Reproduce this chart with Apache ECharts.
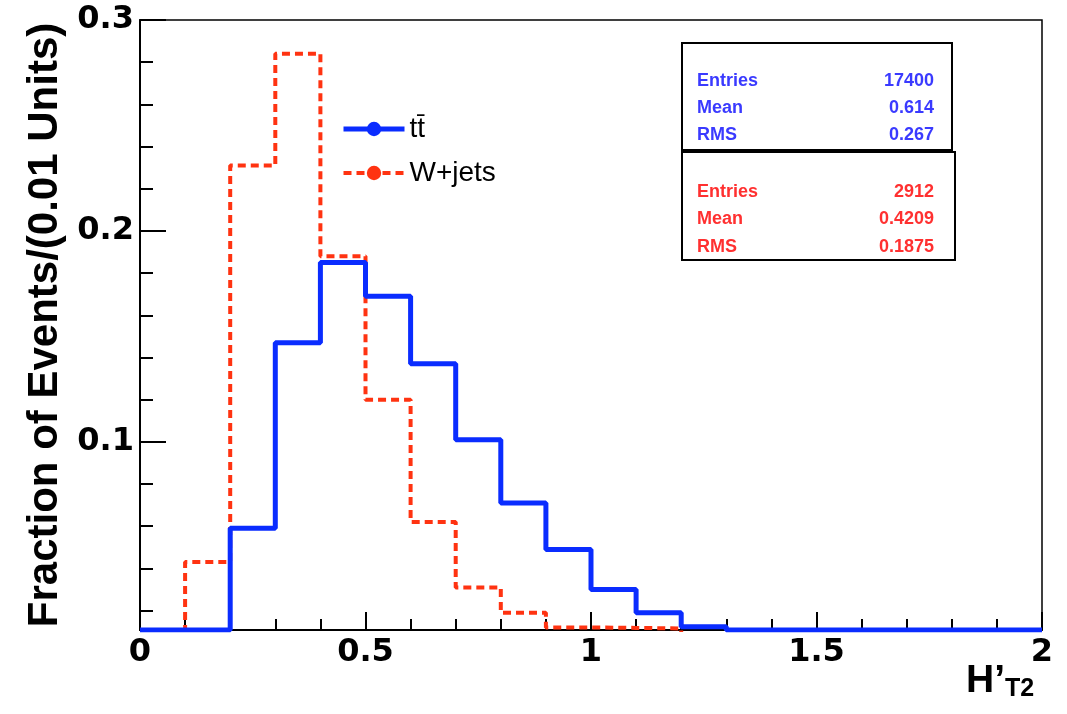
<!DOCTYPE html>
<html>
<head>
<meta charset="utf-8">
<title>HT2 prime</title>
<script src="https://cdn.jsdelivr.net/npm/echarts@6/dist/echarts.min.js"></script>
<style>
  html, body { margin: 0; padding: 0; background: #fff; }
  #main { width: 1067px; height: 714px; }
</style>
</head>
<body>
<div id="main"></div>
<script>
// bin edges (0.1 wide, 0 .. 2)
const binEdges = [0, 0.1, 0.2, 0.3, 0.4, 0.5, 0.6, 0.7, 0.8, 0.9, 1.0,
                  1.1, 1.2, 1.3, 1.4, 1.5, 1.6, 1.7, 1.8, 1.9, 2.0];

// fraction of events per bin
const ttbarValues = [0.001, 0.001, 0.059, 0.147, 0.185, 0.169, 0.137, 0.101, 0.071, 0.049,
                     0.030, 0.019, 0.0123, 0.002, 0.001, 0.001, 0.001, 0.001, 0.001, 0.001];
const wjetsValues = [0, 0.043, 0.231, 0.284, 0.188, 0.120, 0.062, 0.031, 0.019, 0.012,
                     0.0118, 0.0115, 0, 0, 0, 0, 0, 0, 0, 0];

const seriesNames = ["tt\u0304", "W+jets"];

// axis ticks
const yMin = 0.0108;
const yMax = 0.3;
const yMajorTicks = [0.1, 0.2, 0.3];
const yMinorTicks = [0.02, 0.04, 0.06, 0.08, 0.1, 0.12, 0.14, 0.16, 0.18, 0.2,
                     0.22, 0.24, 0.26, 0.28, 0.3];

// stat boxes
const statLabels = ["Entries", "Mean", "RMS"];
const ttbarStats = ["17400", "0.614", "0.267"];
const wjetsStats = ["2912", "0.4209", "0.1875"];

const blue = "#0a2cff";
const red = "#ff3311";

// histogram -> step points (bins below the frame get drawn on the frame floor, like ROOT)
function stepPoints(values) {
    const pts = values.map(function (v, i) {
        return [binEdges[i], v > 0 ? Math.max(v, yMin) : v];
    });
    const last = values[values.length - 1];
    pts.push([binEdges[binEdges.length - 1], last > 0 ? Math.max(last, yMin) : last]);
    return pts;
}

function statText(x, y, text, color, align) {
    return {
        type: "text", x: x, y: y,
        style: { text: text, fill: color, font: "bold 18px 'Liberation Sans', Arial, sans-serif",
                 align: align, verticalAlign: "middle" }
    };
}

const graphics = [
    { type: "rect", shape: { x: 682, y: 43, width: 270, height: 107 },
      style: { fill: "#fff", stroke: "#000", lineWidth: 2 } },
    { type: "rect", shape: { x: 682, y: 152, width: 273, height: 108 },
      style: { fill: "#fff", stroke: "#000", lineWidth: 2 } },
    { type: "text", x: 966, y: 702,
      style: { rich: { h: { font: "bold 39px 'Liberation Sans', Arial, sans-serif", fill: "#000" },
                       s: { font: "bold 25px 'Liberation Sans', Arial, sans-serif", fill: "#000",
                            padding: [16, 0, 0, 0] } },
               text: "{h|H\u2019}{s|T2}", verticalAlign: "bottom" } }
];
statLabels.forEach(function (lab, i) {
    graphics.push(statText(697, 81 + i * 27, lab, "#3a3aff", "left"));
    graphics.push(statText(934, 81 + i * 27, ttbarStats[i], "#3a3aff", "right"));
    graphics.push(statText(697, 192 + i * 27.5, lab, "#ff3030", "left"));
    graphics.push(statText(934, 192 + i * 27.5, wjetsStats[i], "#ff3030", "right"));
});

var myChart = echarts.init(document.getElementById("main"));

const option = {
    animation: false,
    backgroundColor: "#fff",
    grid: { left: 140, right: 25, top: 20, bottom: 84,
            show: true, borderColor: "#000", borderWidth: 1.5 },
    legend: {
        left: 336, top: 110, orient: "vertical",
        itemWidth: 61, itemHeight: 18, itemGap: 16,
        textStyle: { fontSize: 28, color: "#000", fontFamily: "Liberation Sans" },
        data: [
            { name: seriesNames[0], lineStyle: { width: 5 } },
            { name: seriesNames[1], lineStyle: { width: 4 } }
        ]
    },
    xAxis: {
        type: "value", min: 0, max: 2, interval: 0.5,
        axisLine: { onZero: false, lineStyle: { color: "#000", width: 2 } },
        axisTick: { inside: true, length: 18, lineStyle: { color: "#000", width: 2 } },
        minorTick: { show: true, splitNumber: 5, length: 11, lineStyle: { color: "#000", width: 2 } },
        axisLabel: { color: "#000", fontSize: 32, fontWeight: "bold", fontFamily: "DejaVu Sans",
                     margin: 7 },
        splitLine: { show: false }
    },
    yAxis: [
        {
            type: "value", min: yMin, max: yMax,
            axisLine: { show: true, lineStyle: { color: "#000", width: 2 } },
            axisTick: { inside: true, length: 26, customValues: yMajorTicks,
                        lineStyle: { color: "#000", width: 2 } },
            axisLabel: { customValues: yMajorTicks, color: "#000", fontSize: 32, fontWeight: "bold",
                         fontFamily: "DejaVu Sans", margin: 6 },
            splitLine: { show: false },
            name: "Fraction of Events/(0.01 Units)",
            nameLocation: "middle", nameGap: 66, nameRotate: 90,
            nameTextStyle: { fontSize: 42, fontWeight: "bold", color: "#000",
                             fontFamily: "Liberation Sans" }
        },
        {
            type: "value", min: yMin, max: yMax, position: "left",
            axisLine: { show: false },
            axisTick: { inside: true, length: 13, customValues: yMinorTicks,
                        lineStyle: { color: "#000", width: 2 } },
            axisLabel: { show: false },
            splitLine: { show: false }
        }
    ],
    series: [
        {
            name: seriesNames[1], type: "line", step: "end",
            data: stepPoints(wjetsValues),
            symbol: "circle", symbolSize: 16, showSymbol: false,
            itemStyle: { color: red },
            lineStyle: { color: red, width: 4, type: [8, 5] },
            z: 3
        },
        {
            name: seriesNames[0], type: "line", step: "end",
            data: stepPoints(ttbarValues),
            symbol: "circle", symbolSize: 16, showSymbol: false,
            itemStyle: { color: blue },
            lineStyle: { color: blue, width: 5 },
            z: 4
        }
    ],
    graphic: graphics
};

myChart.setOption(option);
</script>
</body>
</html>
